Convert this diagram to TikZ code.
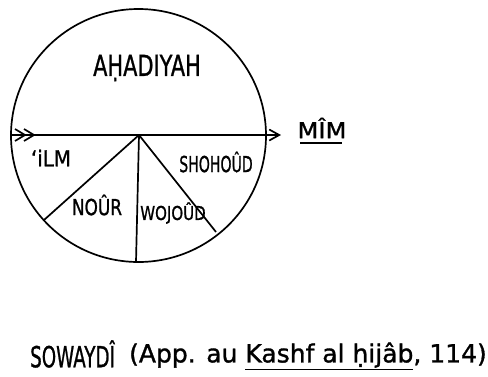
\documentclass[tikz,border=0pt]{standalone}
\usepackage{fontspec}
\setmainfont{DejaVu Sans}
\newfontfamily\hand[FakeBold=1.2]{DejaVu Sans}
\usetikzlibrary{arrows.meta}
\newcommand{\nar}[2]{\scalebox{#1}[1]{#2}}
\begin{document}
\begin{tikzpicture}[x=1pt,y=-1pt,
  ink/.style={line width=1.7pt,black},
  lbl/.style={inner sep=0pt}]
\useasboundingbox (0,0) rectangle (488,376);
\coordinate (O) at (139,135);
\coordinate (L) at (10,135);
\coordinate (R) at (281,135);
\coordinate (B) at (136,262);
\coordinate (BL) at (44,220);
\coordinate (BR) at (216,232);
\draw[ink] (138.5,135.5) ellipse [x radius=127.5, y radius=126.5];
\draw[ink,-{Straight Barb[length=10pt,width=11pt]}] (L) -- (R);
\draw[ink] (15,129) -- (25,135) -- (15,141) (24,129) -- (34,135) -- (24,141);
\draw[ink] (O) -- (B);
\draw[ink] (O) -- (BL);
\draw[ink] (O) -- (BR);
\node[lbl,font=\hand\fontsize{29}{29}\selectfont] (ahad) at (147,68) {\nar{0.72}{AḤADIYAH}};
\node[lbl,font=\hand\fontsize{22}{22}\selectfont] (ilm) at (51,158) {\nar{0.9}{ʻiLM}};
\node[lbl,font=\hand\fontsize{22}{22}\selectfont] (nour) at (97,205) {\nar{0.77}{NOÛR}};
\node[lbl,font=\hand\fontsize{19}{19}\selectfont] (woj) at (173,213) {\nar{0.79}{WOJOÛD}};
\node[lbl,font=\hand\fontsize{22}{22}\selectfont] (shoh) at (216,162) {\nar{0.64}{SHOHOÛD}};
\node[lbl,font=\hand\fontsize{22}{22}\selectfont] (mim) at (322,128) {\nar{1.1}{MÎM}};
\draw[ink] (300,143) -- (342,143);
\node[lbl,font=\hand\fontsize{29}{29}\selectfont,anchor=west] (sow) at (30,354) {\nar{0.63}{SOWAYDÎ}};
\node[lbl,font=\hand\fontsize{25}{25}\selectfont,anchor=east] (ref) at (487,356) {(App. au \underline{Kashf al ḥijâb}, 114)};
\end{tikzpicture}
\end{document}
